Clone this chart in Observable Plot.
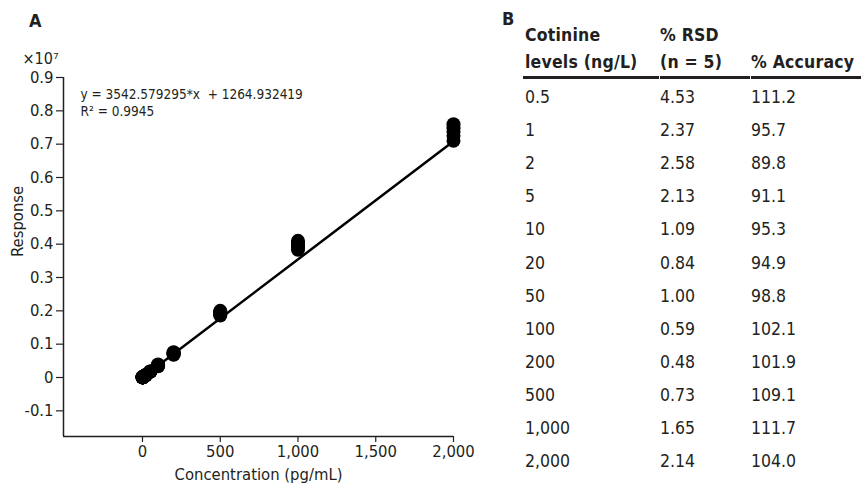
<!DOCTYPE html>
<html>
<head>
<meta charset="utf-8">
<script src="https://cdn.jsdelivr.net/npm/d3@7"></script>
<script src="https://cdn.jsdelivr.net/npm/@observablehq/plot@0.6"></script>
<style>
  html, body { margin: 0; padding: 0; background: #fff; }
  #wrap { position: relative; width: 862px; height: 484px; overflow: hidden;
    font-family: "DejaVu Sans Condensed", "Liberation Sans", sans-serif; color: #231f20; }
  #chart { position: absolute; left: 0; top: 0; }
  .panel { position: absolute; font-weight: bold; font-size: 18px; }
  .cell { position: absolute; font-size: 17.5px; line-height: 20px; white-space: nowrap; }
  .hdr { font-weight: bold; letter-spacing: 0.2px; }
  .rule { position: absolute; height: 2.5px; background: #231f20; }
</style>
</head>
<body>
<div id="wrap">
  <div id="chart"></div>
  <div class="panel" style="left:29px; top:10px;">A</div>
  <div class="panel" style="left:502px; top:8px;">B</div>
</div>
<script>
// ---------- Panel A data ----------
const concentrations = [0.5, 1, 2, 5, 10, 20, 50, 100, 200, 500, 1000, 2000];
const replicateResponses = [
  [3200, 3300, 3400, 3450, 3550],
  [4450, 4550, 4600, 4680, 4720],
  [7300, 7400, 7500, 7600, 7700],
  [16900, 17100, 17300, 17500, 17650],
  [34400, 34700, 35000, 35300, 35400],
  [67600, 68000, 68400, 68900, 69300],
  [174000, 175300, 176200, 177300, 178400],
  [335000, 350000, 362000, 375000, 390000],
  [680000, 700000, 722000, 740000, 760000],
  [1860000, 1900000, 1930000, 1960000, 2000000],
  [3830000, 3900000, 3960000, 4030000, 4100000],
  [7100000, 7250000, 7370000, 7480000, 7600000]
];
const fitSlope = 3542.579295;
const fitIntercept = 1264.932419;
const fitRangeX = [0, 2000];
const equationLine1 = "y = 3542.579295*x  + 1264.932419";
const equationLine2 = "R² = 0.9945";
const yTicks = [-1e6, 0, 1e6, 2e6, 3e6, 4e6, 5e6, 6e6, 7e6, 8e6, 9e6];
const xTicks = [0, 500, 1000, 1500, 2000];
const xDomain = [-508, 2000];
const yDomain = [-1.77e6, 9e6];
const xLabel = "Concentration (pg/mL)";
const yLabel = "Response";
const yScaleNote = "×10⁷";

// ---------- Panel B data ----------
const headerCol1 = ["Cotinine", "levels (ng/L)"];
const headerCol2 = ["% RSD", "(n = 5)"];
const headerCol3 = ["", "% Accuracy"];
const levelLabels = ["0.5", "1", "2", "5", "10", "20", "50", "100", "200", "500", "1,000", "2,000"];
const rsdValues = ["4.53", "2.37", "2.58", "2.13", "1.09", "0.84", "1.00", "0.59", "0.48", "0.73", "1.65", "2.14"];
const accuracyValues = ["111.2", "95.7", "89.8", "91.1", "95.3", "94.9", "98.8", "102.1", "101.9", "109.1", "111.7", "104.0"];

// ---------- build chart ----------
const points = [];
concentrations.forEach((c, i) => replicateResponses[i].forEach(r => points.push({x: c, y: r})));
const fitLine = fitRangeX.map(x => ({x, y: fitSlope * x + fitIntercept}));
const ink = "#231f20";
const fontStack = '"DejaVu Sans Condensed", "Liberation Sans", sans-serif';

const chart = Plot.plot({
  width: 480,
  height: 484,
  marginLeft: 63,
  marginRight: 27,
  marginTop: 77,
  marginBottom: 48,
  style: {fontFamily: fontStack, fontSize: "16.5px", color: ink, background: "white"},
  x: {domain: xDomain},
  y: {domain: yDomain},
  marks: [
    Plot.ruleX([xDomain[0]], {y1: yDomain[0], y2: yDomain[1], stroke: ink, strokeWidth: 1.5}),
    Plot.ruleY([yDomain[0]], {x1: xDomain[0], x2: xDomain[1], stroke: ink, strokeWidth: 1.5}),
    Plot.axisY({ticks: yTicks, tickSize: 7, tickPadding: 3, strokeWidth: 1.2,
      tickFormat: d => d === 0 ? "0" : (d / 1e7).toFixed(1),
      label: null, stroke: ink}),
    Plot.axisX({ticks: xTicks, tickSize: 6, tickPadding: 3, strokeWidth: 1.2,
      tickFormat: d3.format(","), label: null, stroke: ink}),
    Plot.text([yLabel], {frameAnchor: "left", dx: -46, rotate: -90, fill: ink, fontSize: 16.5}),
    Plot.text([xLabel], {frameAnchor: "bottom", dy: 38, lineAnchor: "middle", fill: ink, fontSize: 16.5}),
    Plot.line(fitLine, {x: "x", y: "y", stroke: "black", strokeWidth: 2.5}),
    Plot.dot(points, {x: "x", y: "y", r: 7, fill: "black", stroke: "none"}),
    Plot.text([equationLine1], {frameAnchor: "top-left", dx: 17, dy: 17, textAnchor: "start", lineAnchor: "middle", fill: ink, fontSize: 13.5}),
    Plot.text([equationLine2], {frameAnchor: "top-left", dx: 17, dy: 34, textAnchor: "start", lineAnchor: "middle", fill: ink, fontSize: 13.5}),
    Plot.text([yScaleNote], {frameAnchor: "top-left", dx: -41, dy: -25, textAnchor: "start", lineAnchor: "top", fill: ink, fontSize: 16})
  ]
});
document.getElementById("chart").appendChild(chart);

// ---------- build table ----------
const wrap = document.getElementById("wrap");
const colX = [525, 660, 751];
function addCell(text, x, cy, cls) {
  const el = document.createElement("div");
  el.className = "cell" + (cls ? " " + cls : "");
  el.textContent = text;
  el.style.left = x + "px";
  el.style.top = (cy - 10) + "px";
  wrap.appendChild(el);
}
[headerCol1, headerCol2, headerCol3].forEach((col, j) => {
  col.forEach((t, k) => { if (t) addCell(t, colX[j], 35 + 27 * k, "hdr"); });
});
const ruleEdges = [523, colX[1], colX[2], 862];
for (let j = 0; j < 3; j++) {
  const r = document.createElement("div");
  r.className = "rule";
  r.style.left = ruleEdges[j] + "px";
  r.style.top = "76px";
  r.style.width = (ruleEdges[j + 1] - ruleEdges[j] - 1) + "px";
  wrap.appendChild(r);
}
const rowPitch = 33.1;
levelLabels.forEach((lab, i) => {
  const cy = 97 + rowPitch * i;
  addCell(lab, colX[0], cy);
  addCell(rsdValues[i], colX[1], cy);
  addCell(accuracyValues[i], colX[2], cy);
});
</script>
</body>
</html>
